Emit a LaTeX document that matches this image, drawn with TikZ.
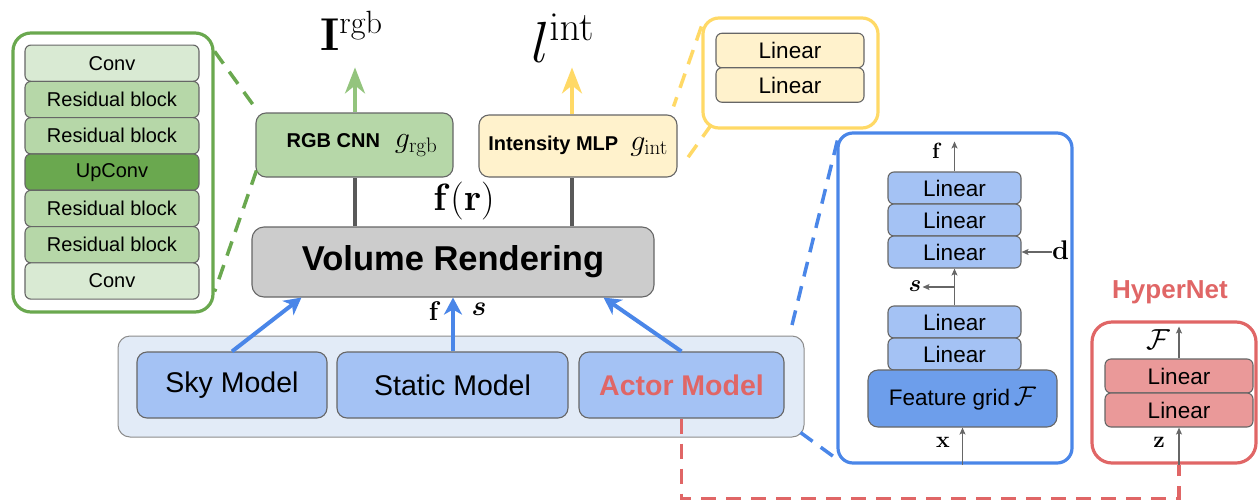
\RequirePackage{fix-cm}
\documentclass[tikz,border=0pt]{standalone}
\usepackage{amsmath}
\usepackage[no-math]{fontspec}
\setmainfont{Liberation Sans}
\usetikzlibrary{arrows.meta,calc}

\definecolor{gDark}{HTML}{6AA84F}
\definecolor{gMid}{HTML}{B6D7A8}
\definecolor{gLight}{HTML}{D9EAD3}
\definecolor{gArrow}{HTML}{93C47D}
\definecolor{yLight}{HTML}{FFF2CC}
\definecolor{yDark}{HTML}{FFD966}
\definecolor{vGray}{HTML}{CCCCCC}
\definecolor{bBox}{HTML}{A4C2F4}
\definecolor{bGrid}{HTML}{6D9EEB}
\definecolor{bDark}{HTML}{4A86E8}
\definecolor{bPale}{HTML}{E2EBF7}
\definecolor{rDark}{HTML}{E06666}
\definecolor{rLight}{HTML}{EA9999}
\definecolor{edge}{HTML}{666666}
\definecolor{link}{HTML}{595959}

\newcommand{\fs}[1]{\fontsize{#1}{#1}\selectfont}

\tikzset{
  blk/.style={draw=edge, line width=1.1pt, rounded corners=6pt, inner sep=0pt, text=black},
  gbox/.style={blk, minimum width=174pt, minimum height=36.3pt, font=\fs{20}},
  lin/.style={blk, fill=bBox, minimum width=133pt, minimum height=32pt, font=\fs{22.5}},
  ylin/.style={blk, fill=yLight, minimum width=148pt, minimum height=34.5pt, font=\fs{22.5}},
  rlin/.style={blk, fill=rLight, minimum width=148pt, minimum height=34pt, font=\fs{22.5}},
  model/.style={blk, fill=bBox, rounded corners=10pt, minimum height=66pt, font=\fs{28.5}},
  panel/.style={line width=3.2pt, rounded corners=18pt, inner sep=0pt},
  dashlink/.style={line width=3.5pt, dash pattern=on 15pt off 10pt},
  feed/.style={bDark, line width=4pt, -{Stealth[length=17pt,width=18pt,inset=5pt]}},
  outarrow/.style={line width=3.5pt, -{Stealth[length=26pt,width=20pt,inset=8pt]}},
  thin/.style={edge, line width=1.2pt, -{Stealth[length=7pt,width=6pt,inset=1.5pt]}},
  lab/.style={inner sep=0pt, text=black}
}

\begin{document}
\begin{tikzpicture}[x=1pt,y=-1pt]
\useasboundingbox (0,0) rectangle (1258,501);

% ---------- RGB decoder detail (left) ----------
\node[panel, draw=gDark, minimum width=200pt, minimum height=279pt] (gpanel) at (113,172.5) {};
\node[gbox, fill=gLight] (g1) at (112,63.2) {Conv};
\node[gbox, fill=gMid]   (g2) at (112,99.5) {Residual block};
\node[gbox, fill=gMid]   (g3) at (112,135.8) {Residual block};
\node[gbox, fill=gDark]  (g4) at (112,172.1) {UpConv};
\node[gbox, fill=gMid]   (g5) at (112,208.4) {Residual block};
\node[gbox, fill=gMid]   (g6) at (112,244.7) {Residual block};
\node[gbox, fill=gLight] (g7) at (112,281) {Conv};

% ---------- heads ----------
\node[blk, fill=gMid, rounded corners=10pt, minimum width=197pt, minimum height=64pt] (rgb) at (354.5,145)
  {\hspace*{15pt}{\fs{20}\bfseries RGB CNN}\hspace{15pt}{\fs{30}$g_{\mathrm{rgb}}$}};
\node[blk, fill=yLight, rounded corners=10pt, minimum width=198pt, minimum height=62pt] (int) at (578,146)
  {{\fs{20}\bfseries Intensity MLP}\hspace{12pt}{\fs{30}$g_{\mathrm{int}}$}};

\draw[gDark, dashlink] ($(gpanel.north east)+(0,20)$) -- ($(rgb.north west)+(1,-3)$);
\draw[gDark, dashlink] ($(rgb.south west)+(1,-7)$) -- ($(gpanel.south east)+(0,-22)$);

% outputs
\node[lab, anchor=base west, font=\fs{46}] (Irgb) at (320,50) {$\mathbf{I}^{\mathrm{rgb}}$};
\node[lab, anchor=base west, font=\fs{58}] (lint) at (531,62) {$l^{\mathrm{int}}$};
\coordinate (rgbout) at ($(rgb.north)+(0.5,-45)$);
\coordinate (intout) at ($(int.north)+(-6,-47)$);
\draw[gArrow, outarrow] (rgb.north -| rgbout) -- (rgbout);
\draw[yDark, outarrow] (int.north -| intout) -- (intout);

% ---------- intensity MLP detail ----------
\node[panel, draw=yDark, rounded corners=16pt, minimum width=175pt, minimum height=110pt] (ypanel) at (790.5,73) {};
\node[ylin] (y1) at (790,50.5) {Linear};
\node[ylin] (y2) at (790,85) {Linear};
\draw[yDark, dashlink] ($(ypanel.north west)+(0,10)$) -- ($(int.north east)+(-4,-8)$);
\draw[yDark, dashlink] ($(ypanel.south west)+(10,-5)$) -- ($(int.south east)+(6,-14)$);

% ---------- volume rendering ----------
\node[blk, fill=vGray, rounded corners=12pt, minimum width=402pt, minimum height=70pt, font=\fs{34.5}\bfseries] (vol) at (453,262) {Volume Rendering};
\draw[link, line width=3.5pt] (vol.north -| rgbout) -- (rgb.south -| rgbout);
\draw[link, line width=3.5pt] (vol.north -| intout) -- (int.south -| intout);
\node[lab, anchor=base, font=\fs{38}] (fr) at (464,210) {$\mathbf{f}(\mathbf{r})$};

% ---------- scene models ----------
\node[draw=black!45, line width=1pt, fill=bPale, rounded corners=12pt, minimum width=686pt, minimum height=101pt, inner sep=0pt] (scene) at (461,386.5) {};
\node[model, minimum width=190pt] (sky) at (232,385) {Sky Model};
\node[model, minimum width=231pt] (static) at (452.5,385) {Static Model};
\node[model, minimum width=205pt, text=rDark, font=\fs{28.5}\bfseries] (actor) at (681.5,385) {Actor Model};

\draw[feed] (sky.north) -- ($(vol.south west)+(50,0)$);
\draw[feed] (static.north -| vol.south) -- (vol.south);
\draw[feed] (actor.north) -- ($(vol.south east)+(-51,0)$);
\node[lab, font=\fs{27}] (flab) at (435,311) {$\mathbf{f}$};
\node[lab, font=\fs{28}] (slab) at (479,309) {$\boldsymbol{s}$};

% ---------- actor field detail ----------
\node[panel, draw=bDark, rounded corners=15pt, minimum width=234pt, minimum height=330pt] (bpanel) at (955,298) {};
\node[lin] (u1) at (954.5,188) {Linear};
\node[lin] (u2) at (954.5,220) {Linear};
\node[lin] (u3) at (954.5,252) {Linear};
\node[lin] (w1) at (954.5,322) {Linear};
\node[lin] (w2) at (954.5,354) {Linear};
\node[blk, fill=bGrid, rounded corners=10pt, minimum width=189pt, minimum height=57pt, font=\fs{22.5}] (grid) at (962.5,398.5) {Feature grid\,{\fs{27}$\mathcal{F}$}};

\draw[bDark, dashlink] (792,325) -- ($(bpanel.north west)+(2,5)$);
\draw[bDark, dashlink] ($(scene.south east)+(-4,-5)$) -- ($(bpanel.south west)+(4,-3)$);

\coordinate (ftop) at ($(u1.north)+(0,-30)$);
\draw[thin] (u1.north) -- (ftop);
\node[lab, font=\fs{22}] (fout) at (937,151) {$\mathbf{f}$};
\draw[thin] (w1.north) -- (u3.south);
\coordinate (sbr) at ($(w1.north)!0.5!(u3.south)$);
\coordinate (stip) at ($(sbr)+(-32,0)$);
\draw[thin] (sbr) -- (stip);
\node[lab, anchor=east, font=\fs{24}] (sout) at ($(stip)+(-1,-1)$) {$\boldsymbol{s}$};
\node[lab, anchor=west, font=\fs{27}] (din) at (1052,250) {$\mathbf{d}$};
\draw[thin] (din.west |- u3.east) -- (u3.east);
\draw[thin] (bpanel.south -| grid.south) -- (grid.south);
\node[lab, font=\fs{23}] (xin) at (943,442) {$\mathbf{x}$};

% ---------- hypernetwork ----------
\node[lab, text=rDark, font=\fs{26}\bfseries] (hntitle) at (1170,292) {HyperNet};
\node[panel, draw=rDark, rounded corners=20pt, minimum width=164pt, minimum height=141pt] (hn) at (1174,392.5) {};
\node[rlin] (h1) at (1179,376) {Linear};
\node[rlin] (h2) at (1179,410) {Linear};
\coordinate (hin) at (hn.south -| h2.south);
\coordinate (htop) at ($(h1.north)+(0,-32)$);
\draw[thin] (h1.north) -- (htop);
\node[lab, font=\fs{29}] (Fout) at (1158,340) {$\mathcal{F}$};
\draw[thin] (hin) -- (h2.south);
\node[lab, font=\fs{23}] (zin) at (1159,442) {$\mathbf{z}$};

\draw[rDark, dashlink] (actor.south) |- ($(hin)+(0,34)$) -- (hin);
\end{tikzpicture}
\end{document}
